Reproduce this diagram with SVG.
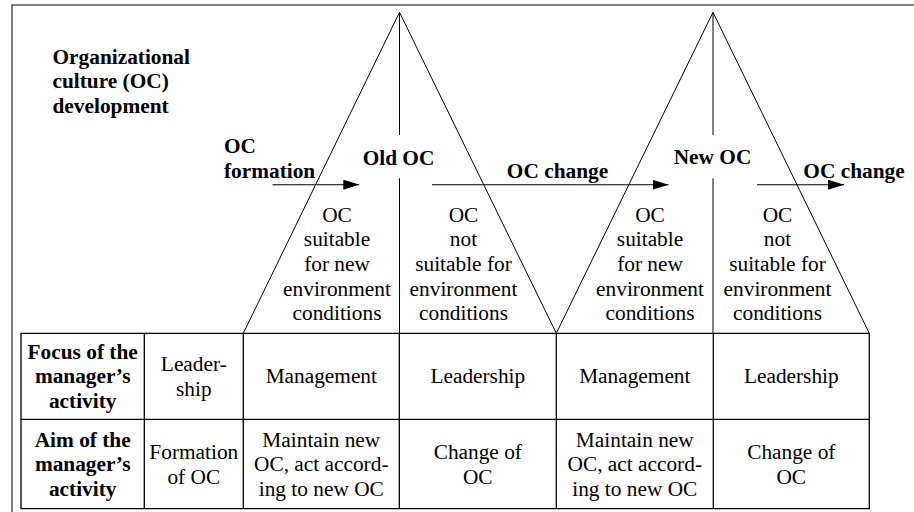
<svg xmlns="http://www.w3.org/2000/svg" width="914" height="512" viewBox="0 0 914 512">
  <style>
    text { font-family: "Liberation Serif", "Times New Roman", serif; font-size: 21.33px; fill: #000; }
    .b { font-weight: bold; }
    .c { text-anchor: middle; }
    .thin { fill: none; stroke: #000; stroke-width: 1; }
    .grid { fill: none; stroke: #000; stroke-width: 1.3; }
    .frame { fill: none; stroke: #555; stroke-width: 1.5; }
    .arrow { stroke: #000; stroke-width: 1.1; fill: none; marker-end: url(#head); }
  </style>
  <defs>
    <marker id="head" markerUnits="userSpaceOnUse" markerWidth="16" markerHeight="10" refX="16" refY="5" orient="auto">
      <path d="M0,0 L16,5 L0,10 z" fill="#000"/>
    </marker>
  </defs>

  <rect width="914" height="512" fill="#fff"/>
  <!-- outer frame (open to the right and bottom) -->
  <path class="frame" d="M12,512 V5 H914"/>

  <!-- title -->
  <g id="title">
    <text class="b" x="52.5" y="63.5">Organizational</text>
    <text class="b" x="52.5" y="88">culture (OC)</text>
    <text class="b" x="52.5" y="112.5">development</text>
  </g>

  <!-- old OC cone -->
  <g id="old-oc">
    <path class="thin" d="M243.3,333.3 L399.5,12.3 L556.3,333.3"/>
    <path class="thin" d="M399.5,12.3 V135 M399.5,178.3 V333.3"/>
    <text class="b c" x="398.5" y="165">Old OC</text>
    <g>
      <text class="c" x="337" y="221.7">OC</text>
      <text class="c" x="337" y="246.3">suitable</text>
      <text class="c" x="337" y="271">for new</text>
      <text class="c" x="337" y="295.6">environment</text>
      <text class="c" x="337" y="320.2">conditions</text>
    </g>
    <g>
      <text class="c" x="463.5" y="221.7">OC</text>
      <text class="c" x="463.5" y="246.3">not</text>
      <text class="c" x="463.5" y="271">suitable for</text>
      <text class="c" x="463.5" y="295.6">environment</text>
      <text class="c" x="463.5" y="320.2">conditions</text>
    </g>
  </g>

  <!-- new OC cone -->
  <g id="new-oc">
    <path class="thin" d="M556.3,333.3 L713,12.3 L869.3,333.3"/>
    <path class="thin" d="M713,12.3 V135 M713,178.3 V333.3"/>
    <text class="b c" x="712.5" y="164.3">New OC</text>
    <g>
      <text class="c" x="650" y="221.7">OC</text>
      <text class="c" x="650" y="246.3">suitable</text>
      <text class="c" x="650" y="271">for new</text>
      <text class="c" x="650" y="295.6">environment</text>
      <text class="c" x="650" y="320.2">conditions</text>
    </g>
    <g>
      <text class="c" x="777.5" y="221.7">OC</text>
      <text class="c" x="777.5" y="246.3">not</text>
      <text class="c" x="777.5" y="271">suitable for</text>
      <text class="c" x="777.5" y="295.6">environment</text>
      <text class="c" x="777.5" y="320.2">conditions</text>
    </g>
  </g>

  <!-- stage transitions -->
  <g id="connectors">
    <line class="arrow" x1="272.5" y1="184.7" x2="359.3" y2="184.7"/>
    <line class="arrow" x1="432" y1="184.7" x2="668.5" y2="184.7"/>
    <line class="arrow" x1="757" y1="184.7" x2="844" y2="184.7"/>
  </g>
  <g id="labels">
    <text class="b" x="224" y="153.3">OC</text>
    <text class="b" x="224" y="177.5">formation</text>
    <text class="b c" x="557.5" y="178.3">OC change</text>
    <text class="b c" x="854" y="178.3">OC change</text>
  </g>

  <!-- activity table -->
  <g id="table">
    <path class="grid" d="M21,333.3 H869.3 V508.7 H21 Z M21,419.3 H869.3 M144.3,333.3 V508.7 M243.3,333.3 V508.7 M399.3,333.3 V508.7 M556.3,333.3 V508.7 M713.3,333.3 V508.7"/>

    <text class="b c" x="82.7" y="358.5">Focus of the</text>
    <text class="b c" x="82.7" y="383">manager’s</text>
    <text class="b c" x="82.7" y="407.5">activity</text>
    <text class="c" x="193.8" y="371">Leader-</text>
    <text class="c" x="193.8" y="395.5">ship</text>
    <text class="c" x="321.3" y="383">Management</text>
    <text class="c" x="477.8" y="383">Leadership</text>
    <text class="c" x="634.8" y="383">Management</text>
    <text class="c" x="791.3" y="383">Leadership</text>

    <text class="b c" x="82.7" y="446.5">Aim of the</text>
    <text class="b c" x="82.7" y="471">manager’s</text>
    <text class="b c" x="82.7" y="495.5">activity</text>
    <text class="c" x="193.8" y="459">Formation</text>
    <text class="c" x="193.8" y="483.5">of OC</text>
    <text class="c" x="321.3" y="446.5">Maintain new</text>
    <text class="c" x="321.3" y="471">OC, act accord-</text>
    <text class="c" x="321.3" y="495.5">ing to new OC</text>
    <text class="c" x="477.8" y="459">Change of</text>
    <text class="c" x="477.8" y="483.5">OC</text>
    <text class="c" x="634.8" y="446.5">Maintain new</text>
    <text class="c" x="634.8" y="471">OC, act accord-</text>
    <text class="c" x="634.8" y="495.5">ing to new OC</text>
    <text class="c" x="791.3" y="459">Change of</text>
    <text class="c" x="791.3" y="483.5">OC</text>
  </g>
</svg>
